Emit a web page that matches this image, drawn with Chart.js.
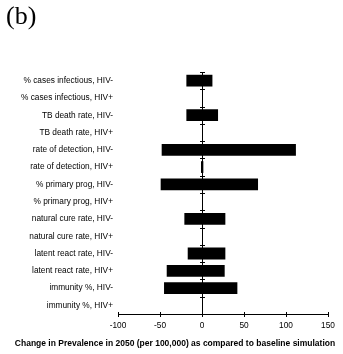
<!DOCTYPE html>
<html>
<head>
<meta charset="utf-8">
<script src="https://cdn.jsdelivr.net/npm/chart.js@4"></script>
<style>
  html, body { margin: 0; padding: 0; background: #fff; }
  #wrap { width: 343px; height: 354px; position: relative; overflow: hidden; }
  #panel {
    position: absolute; left: 6px; top: 2.5px;
    font: 26px/26px "Liberation Serif", "Times New Roman", serif;
    color: #000;
  }
  #axisTitle {
    position: absolute; left: 0; width: 350px; top: 338px;
    text-align: center; white-space: nowrap;
    font: bold 8.5px/10px "Liberation Sans", Arial, sans-serif;
    color: #000;
  }
</style>
</head>
<body>
<div id="wrap">
  <canvas id="chart"></canvas>
  <div id="panel"></div>
  <div id="axisTitle"></div>
</div>
<script>
// ── Datos ──────────────────────────────────────────────────────────────────
const panelLabel = '(b)';
const axisTitle  = 'Change in Prevalence in 2050 (per 100,000) as compared to baseline simulation';

const parametros = [
  '% cases infectious, HIV-',
  '% cases infectious, HIV+',
  'TB death rate, HIV-',
  'TB death rate, HIV+',
  'rate of detection, HIV-',
  'rate of detection, HIV+',
  '% primary prog, HIV-',
  '% primary prog, HIV+',
  'natural cure rate, HIV-',
  'natural cure rate, HIV+',
  'latent react rate, HIV-',
  'latent react rate, HIV+',
  'immunity %, HIV-',
  'immunity %, HIV+',
];

// extremo inferior / superior de cada barra (cambio vs simulación base)
const valoresBajo = [-18.6, 0, -18.6, 0, -48.0, -1.2, -49.2, 0, -21.0, 0, -17.0, -42.0, -45.2, 0];
const valoresAlto = [ 12.4, 0,  19.1, 0, 111.8,  1.6,  66.7, 0,  27.8, 0,  27.8,  27.0,  42.1, 0];

const xTicks = [-100, -50, 0, 50, 100, 150];

// ── Utils ──────────────────────────────────────────────────────────────────
const $ = id => document.getElementById(id);
const SANS = '"Liberation Sans", Arial, sans-serif';

$('panel').textContent = panelLabel;
$('axisTitle').textContent = axisTitle;

// marcas en cruz sobre los ejes (como en Excel)
const crossTicks = {
  id: 'crossTicks',
  afterDatasetsDraw(chart) {
    const { ctx, scales: { x, y } } = chart;
    const half = 2.5;
    ctx.save();
    ctx.strokeStyle = '#000';
    ctx.lineWidth = 1;
    ctx.beginPath();
    const x0 = Math.round(x.getPixelForValue(0)) + 0.5;
    for (let i = 0; i <= parametros.length; i++) {
      const py = Math.round(y.getPixelForValue(i - 0.5)) + 0.5;
      ctx.moveTo(x0 - half, py);
      ctx.lineTo(x0 + half, py);
    }
    const yb = Math.round(y.bottom) + 0.5;
    xTicks.forEach(v => {
      const px = Math.round(x.getPixelForValue(v)) + 0.5;
      ctx.moveTo(px, yb - half);
      ctx.lineTo(px, yb + half);
    });
    ctx.stroke();
    ctx.restore();
  }
};

// ── Gráfico ────────────────────────────────────────────────────────────────
new Chart($('chart'), {
  type: 'bar',
  data: {
    labels: parametros,
    datasets: [{
      data: parametros.map((_, i) => [valoresBajo[i], valoresAlto[i]]),
      backgroundColor: '#000',
      borderWidth: 0,
      barPercentage: 0.68,
      categoryPercentage: 1,
    }],
  },
  options: {
    indexAxis: 'y',
    responsive: true,
    maintainAspectRatio: false,
    animation: false,
    layout: { padding: { left: 19, right: 15, top: 72, bottom: 17.6 } },
    plugins: {
      legend: { display: false },
      tooltip: { enabled: false },
    },
    scales: {
      x: {
        min: -100,
        max: 150,
        afterBuildTicks: s => { s.ticks = xTicks.map(v => ({ value: v })); },
        afterFit: s => { s.height = 22.4; },
        grid: {
          drawTicks: false,
          color: c => (c.tick && c.tick.value === 0 ? '#000' : 'rgba(0,0,0,0)'),
          lineWidth: 1,
        },
        border: { display: true, color: '#000', width: 1 },
        ticks: {
          color: '#000',
          padding: 6.5,
          maxRotation: 0,
          font: { family: SANS, size: 8.3 },
        },
      },
      y: {
        afterFit: s => { s.width = 99; },
        grid: { display: false, drawTicks: false },
        border: { display: false },
        ticks: {
          color: '#000',
          padding: 5,
          autoSkip: false,
          font: { family: SANS, size: 8.3 },
        },
      },
    },
  },
  plugins: [crossTicks],
});
</script>
</body>
</html>
